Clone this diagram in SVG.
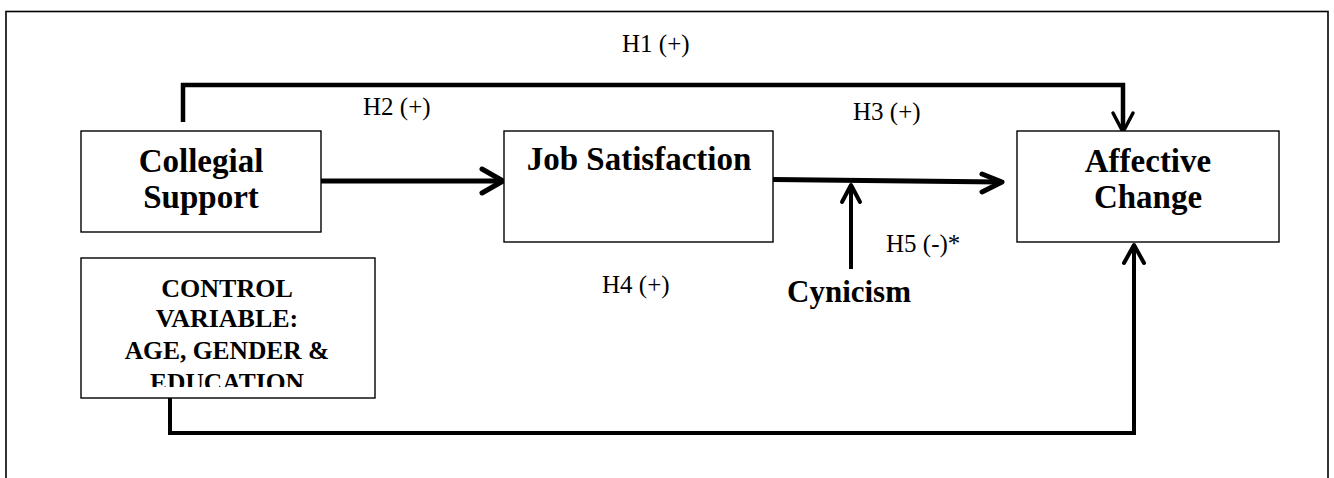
<svg xmlns="http://www.w3.org/2000/svg" width="1334" height="478" viewBox="0 0 1334 478">
<style>
.box{fill:#fff;stroke:#000;stroke-width:1.4}
.frame{fill:none;stroke:#000;stroke-width:1.6}
.title{font-family:"Liberation Serif",serif;font-weight:bold;font-size:33px;fill:#000;text-anchor:middle}
.tnr{font-family:"Liberation Serif",serif;font-weight:bold;fill:#000;text-anchor:middle}
.lbl{font-family:"Liberation Serif",serif;font-size:25px;fill:#000}
.line{fill:none;stroke:#000;stroke-linecap:butt;stroke-linejoin:miter}
.head{fill:none;stroke:#000;stroke-linecap:round;stroke-linejoin:round}
</style>
<defs>
<clipPath id="clipCtrl"><rect x="82" y="259" width="292" height="128"/></clipPath>
</defs>
<rect class="frame" x="6" y="11.5" width="1322" height="480"/>
<g id="connectors">
<path class="line" d="M183 122 V85 H1123 V130" stroke-width="4.5"/>
<path class="head" d="M1113 113 L1123 132 L1133 113" stroke-width="3.5"/>
<path class="line" d="M321 181 H501" stroke-width="5"/>
<path class="head" d="M482 169 L503 181 L482 193" stroke-width="5"/>
<path class="line" d="M773 179.5 L1000 182" stroke-width="5"/>
<path class="head" d="M982 174 L1002 182 L982 192" stroke-width="5"/>
<path class="line" d="M851 269 V188" stroke-width="4"/>
<path class="head" d="M842 202 L851 185 L860 202" stroke-width="4"/>
<path class="line" d="M170 398 V433 H1134 V247" stroke-width="4"/>
<path class="head" d="M1124 263 L1134 245 L1144 263" stroke-width="4"/>
</g>
<g id="collegial-support">
<rect class="box" x="81" y="131" width="240" height="101"/>
<text class="title" x="201" y="172">Collegial</text>
<text class="title" x="201" y="208">Support</text>
</g>
<g id="job-satisfaction">
<rect class="box" x="504" y="131" width="269" height="111"/>
<text class="title" x="639" y="170">Job Satisfaction</text>
</g>
<g id="affective-change">
<rect class="box" x="1017" y="131" width="262" height="111"/>
<text class="title" x="1148" y="172">Affective</text>
<text class="title" x="1148" y="208">Change</text>
</g>
<g id="control-variable">
<rect class="box" x="81" y="258" width="294" height="140"/>
<g clip-path="url(#clipCtrl)">
<text class="tnr" x="227" y="297" font-size="26">CONTROL</text>
<text class="tnr" x="227" y="327" font-size="26">VARIABLE:</text>
<text class="tnr" x="227" y="359" font-size="25.5">AGE, GENDER &amp;</text>
<text class="tnr" x="227" y="391" font-size="25.5">EDUCATION</text>
</g>
</g>
<g id="cynicism">
<text class="tnr" x="849" y="302" font-size="31">Cynicism</text>
</g>
<g id="labels">
<text class="lbl" x="622" y="52">H1 (+)</text>
<text class="lbl" x="363" y="115">H2 (+)</text>
<text class="lbl" x="853" y="120">H3 (+)</text>
<text class="lbl" x="602" y="293">H4 (+)</text>
<text class="lbl" x="886" y="252">H5 (-)*</text>
</g>
</svg>
